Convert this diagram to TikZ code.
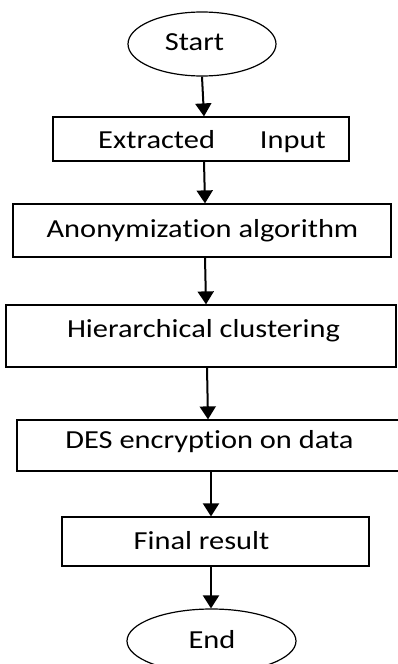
\documentclass[tikz,border=0pt]{standalone}
\usepackage{fontspec}
\setmainfont[FakeStretch=1.17,Ligatures=NoCommon]{Carlito}
\usetikzlibrary{shapes.geometric,arrows.meta}
\begin{document}
\begin{tikzpicture}[x=1pt,y=-1pt,
  boxstyle/.style={draw=black,line width=1.2pt,rectangle,inner sep=0pt},
  ovalstyle/.style={draw=black,line width=1.2pt,ellipse,inner sep=0pt},
  labelstyle/.style={anchor=base,inner sep=0pt,font=\fontsize{26}{30}\selectfont},
  flow/.style={line width=2pt,-{Triangle[width=16pt,length=13pt]}}]
\useasboundingbox (0,0) rectangle (397,664);
% shapes
\node[ovalstyle,minimum width=148pt,minimum height=64pt] (start) at (202,44) {};
\node[boxstyle,minimum width=296pt,minimum height=44pt] (box1) at (201,139) {};
\node[boxstyle,minimum width=378pt,minimum height=53pt] (box2) at (202,230.5) {};
\node[boxstyle,minimum width=390pt,minimum height=62pt] (box3) at (201,336) {};
\node[boxstyle,minimum width=390pt,minimum height=51pt] (box4) at (212,445.5) {};
\node[boxstyle,minimum width=307pt,minimum height=49pt] (box5) at (215.5,541.5) {};
\node[ovalstyle,minimum width=169pt,minimum height=64pt] (end) at (211.5,641) {};
% texts
\node[labelstyle] (tstart) at (194.5,50) {Start};
\node[labelstyle] (t1) at (212,148) {Extracted\hspace{45pt}Input};
\node[labelstyle] (t2) at (202.5,237) {Anonymization algorithm};
\node[labelstyle] (t3) at (203.5,337) {Hierarchical clustering};
\node[labelstyle] (t4) at (209.5,448) {DES encryption on data};
\node[labelstyle] (t5) at (201.5,549) {Final result};
\node[labelstyle] (tend) at (212,648) {End};
% connectors
\draw[flow] (start.south) -- ([xshift=3pt]box1.north);
\draw[flow] ([xshift=3pt]box1.south) -- ([xshift=3pt]box2.north);
\draw[flow] ([xshift=3pt]box2.south) -- ([xshift=5pt]box3.north);
\draw[flow] ([xshift=6pt]box3.south) -- ([xshift=-4pt]box4.north);
\draw[flow] ([xshift=-1pt]box4.south) -- ([xshift=-4.5pt]box5.north);
\draw[flow] ([xshift=-4.5pt]box5.south) -- ([xshift=-0.5pt]end.north);
\end{tikzpicture}
\end{document}
